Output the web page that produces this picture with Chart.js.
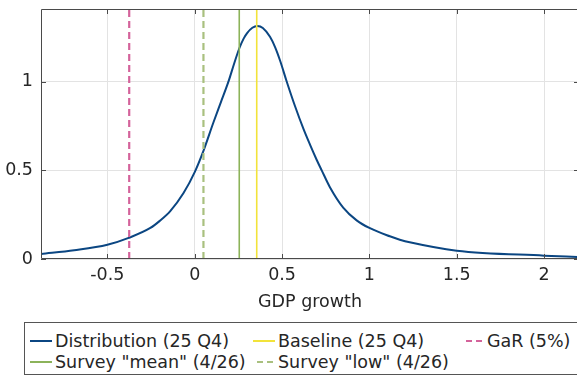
<!DOCTYPE html>
<html>
<head>
<meta charset="utf-8">
<script src="https://cdn.jsdelivr.net/npm/chart.js@4/dist/chart.umd.min.js"></script>
<style>
  html, body { margin: 0; padding: 0; background: #fff; overflow: hidden; }
  #wrap { position: relative; width: 577px; height: 376px; overflow: hidden; }
  #c { position: absolute; left: 0; top: 0; }
  #legend {
    position: absolute; left: 24px; top: 322px; width: 580px; height: 53px;
    border: 1px solid #555; background: #fff; box-sizing: border-box;
    font-family: "DejaVu Sans", sans-serif; font-size: 17.5px; color: #262626;
  }
  .item { position: absolute; display: flex; align-items: center; white-space: nowrap; height: 21px; }
  .item svg { margin-right: 3px; }
</style>
</head>
<body>
<div id="wrap">
  <canvas id="c" width="590" height="376"></canvas>
  <div id="legend"></div>
</div>
<script>
// ---- data ----
const distX = [-0.88, -0.69, -0.5, -0.378, -0.254, -0.2, -0.14, -0.064, 0, 0.05, 0.107, 0.15, 0.193, 0.225, 0.256, 0.28, 0.30, 0.33, 0.359, 0.39, 0.431, 0.46, 0.489, 0.527, 0.575, 0.622, 0.66, 0.698, 0.727, 0.774, 0.85, 0.927, 1.0, 1.117, 1.174, 1.231, 1.5, 2.0, 2.19];
const distY = [0.028, 0.049, 0.08, 0.119, 0.175, 0.215, 0.27, 0.372, 0.49, 0.61, 0.77, 0.885, 1.0, 1.1, 1.19, 1.243, 1.274, 1.304, 1.314, 1.303, 1.253, 1.195, 1.118, 1.0, 0.86, 0.735, 0.645, 0.56, 0.5, 0.405, 0.29, 0.218, 0.175, 0.128, 0.109, 0.094, 0.047, 0.019, 0.011];
const baselineX = 0.355;     // Baseline (25 Q4)
const garX = -0.375;         // GaR (5%)
const surveyMeanX = 0.255;   // Survey "mean" (4/26)
const surveyLowX = 0.05;     // Survey "low" (4/26)
const seriesLabels = ['Distribution (25 Q4)', 'Baseline (25 Q4)', 'GaR (5%)', 'Survey "mean" (4/26)', 'Survey "low" (4/26)'];
const xTicks = [-0.5, 0, 0.5, 1, 1.5, 2];
const yTicks = [0, 0.5, 1];
const xMin = -0.88, xMax = 2.2;
const yMin = 0, yMax = 1.41;
const xTitle = 'GDP growth';

// ---- styles ----
const colors = ['#0b4682', '#f2e33a', '#d4639b', '#8cb35a', '#a9c07f'];
const dashes = [[], [], [7, 4], [], [7, 4]];
const widths = [2, 1.6, 2.2, 1.6, 2.2];
const FONT = '"DejaVu Sans", sans-serif';

function vline(x) { return [{ x: x, y: yMin }, { x: x, y: yMax }]; }
const seriesData = [
  distX.map((x, i) => ({ x: x, y: distY[i] })),
  vline(baselineX),
  vline(garX),
  vline(surveyMeanX),
  vline(surveyLowX)
];

const datasets = seriesData.map((d, i) => ({
  label: seriesLabels[i],
  data: d,
  showLine: true,
  borderColor: colors[i],
  backgroundColor: colors[i],
  borderWidth: widths[i],
  borderDash: dashes[i],
  pointRadius: 0,
  pointHoverRadius: 0,
  cubicInterpolationMode: i === 0 ? 'monotone' : 'default',
  order: -i,
  clip: 0
}));

// box and inward ticks like the reference
const boxPlugin = {
  id: 'box',
  afterDatasetsDraw(chart) {
    const { ctx, chartArea: a, scales } = chart;
    ctx.save();
    ctx.strokeStyle = '#4a4a4a';
    ctx.lineWidth = 1;
    ctx.beginPath();
    ctx.rect(a.left + 0.5, a.top + 0.5, a.right - a.left - 1, a.bottom - a.top - 1);
    ctx.stroke();
    ctx.beginPath();
    const tl = 5;
    xTicks.forEach(v => {
      const px = Math.round(scales.x.getPixelForValue(v)) + 0.5;
      ctx.moveTo(px, a.bottom); ctx.lineTo(px, a.bottom - tl);
      ctx.moveTo(px, a.top); ctx.lineTo(px, a.top + tl);
    });
    yTicks.forEach(v => {
      const py = Math.round(scales.y.getPixelForValue(v)) + 0.5;
      ctx.moveTo(a.left, py); ctx.lineTo(a.left + tl, py);
      ctx.moveTo(a.right, py); ctx.lineTo(a.right - tl, py);
    });
    ctx.stroke();
    ctx.restore();
  }
};

const chart = new Chart(document.getElementById('c'), {
  type: 'scatter',
  data: { datasets },
  options: {
    responsive: false,
    animation: false,
    layout: { padding: { left: 0, right: 11, top: 9, bottom: 63 } },
    plugins: { legend: { display: false }, tooltip: { enabled: false } },
    scales: {
      x: {
        type: 'linear', min: xMin, max: xMax,
        afterBuildTicks: s => { s.ticks = xTicks.map(v => ({ value: v })); },
        afterFit: s => { s.height = 54; s.paddingLeft = 0; s.paddingRight = 0; },
        ticks: { color: '#262626', font: { family: FONT, size: 17.5 }, padding: 6, maxRotation: 0,
                 callback: v => String(v) },
        grid: { color: '#e3e3e3', drawTicks: false, lineWidth: 1 },
        border: { display: false },
        title: { display: true, text: xTitle, color: '#262626', font: { family: FONT, size: 17.5 }, padding: 0 }
      },
      y: {
        type: 'linear', min: yMin, max: yMax,
        afterBuildTicks: s => { s.ticks = yTicks.map(v => ({ value: v })); },
        afterFit: s => { s.width = 41; s.paddingTop = 0; s.paddingBottom = 0; },
        ticks: { color: '#262626', font: { family: FONT, size: 17.5 }, padding: 8,
                 callback: v => String(v) },
        grid: { color: '#e3e3e3', drawTicks: false, lineWidth: 1 },
        border: { display: false }
      }
    }
  },
  plugins: [boxPlugin]
});

// legend built from the chart's datasets
const legendPos = [
  { left: 5, top: 7 }, { left: 228, top: 7 }, { left: 437, top: 7 },
  { left: 5, top: 28 }, { left: 228, top: 28 }
];
const legendEl = document.getElementById('legend');
chart.data.datasets.forEach((ds, i) => {
  const item = document.createElement('div');
  item.className = 'item';
  item.style.left = legendPos[i].left + 'px';
  item.style.top = legendPos[i].top + 'px';
  const dash = (ds.borderDash && ds.borderDash.length) ? 'stroke-dasharray="6 4" stroke-dashoffset="-4"' : '';
  item.innerHTML = '<svg width="22" height="6"><line x1="0" y1="3" x2="22" y2="3" stroke="' + ds.borderColor +
    '" stroke-width="2" ' + dash + '/></svg>';
  const t = document.createElement('span');
  t.textContent = ds.label;
  item.appendChild(t);
  legendEl.appendChild(item);
});
</script>
</body>
</html>
